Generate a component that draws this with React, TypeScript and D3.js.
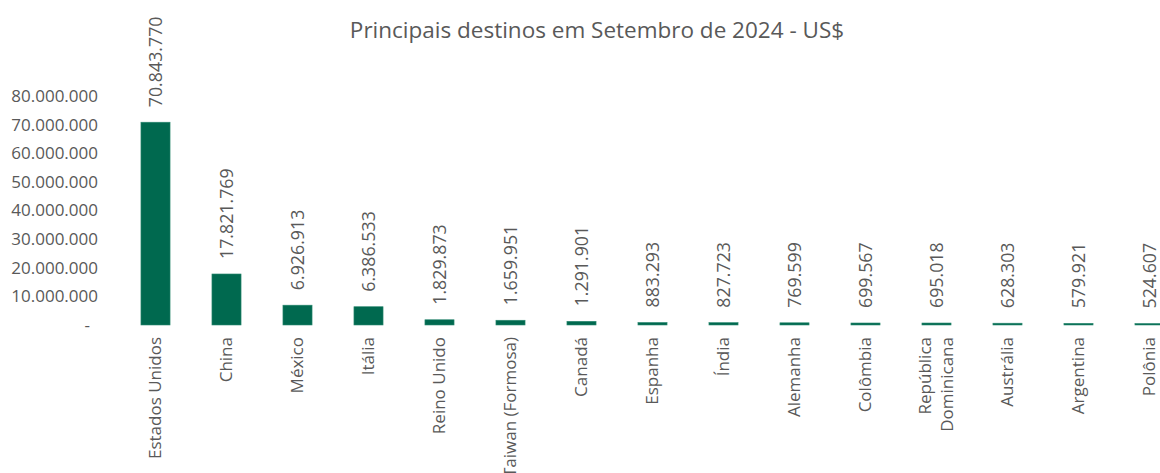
import React from 'react'
import * as d3 from 'd3'

const categories = [
  'Estados Unidos', 'China', 'México', 'Itália', 'Reino Unido', 'Taiwan (Formosa)',
  'Canadá', 'Espanha', 'Índia', 'Alemanha', 'Colômbia', 'República Dominicana',
  'Austrália', 'Argentina', 'Polônia',
]
const values = [
  70843770, 17821769, 6926913, 6386533, 1829873, 1659951, 1291901, 883293,
  827723, 769599, 699567, 695018, 628303, 579921, 524607,
]
const yTicks = [0, 10000000, 20000000, 30000000, 40000000, 50000000, 60000000, 70000000, 80000000]
const title = 'Principais destinos em Setembro de 2024 - US$'

const W = 1160
const H = 473
const FONT = '"Open Sans", sans-serif'
const GRAY = '#595959'
const GREEN = '#00694f'

const fmt = (v: number) => (v === 0 ? '-' : d3.format(',')(v).replace(/,/g, '.'))

// "República Dominicana" is wrapped on two lines in the original
const splitLabel = (s: string) => (s === 'República Dominicana' ? ['República', 'Dominicana'] : [s])

export default function App() {
  const x = d3.scaleBand<string>().domain(categories).range([120, 1185]).paddingInner(0.59).paddingOuter(0.295)
  const y = d3.scaleLinear().domain([0, 80000000]).range([325, 96])

  return (
    <svg width={W} height={H} style={{ position: 'absolute', left: 0, top: 0, background: '#fff' }} fontFamily={FONT}>
      <text x={597} y={38} textAnchor="middle" fontSize={22.5} fill={GRAY}>{title}</text>

      {yTicks.map(t => (
        <text key={t} x={t === 0 ? 90 : 98} y={y(t)} dy="0.35em" textAnchor="end" fontSize={17} fill={GRAY}>
          {fmt(t)}
        </text>
      ))}

      {categories.map((c, i) => {
        const bx = x(c) as number
        const cx = bx + x.bandwidth() / 2
        const top = y(values[i])
        const lines = splitLabel(c)
        return (
          <g key={c}>
            <rect x={bx} y={top} width={x.bandwidth()} height={y(0) - top} fill={GREEN} stroke="#2e8a72" strokeWidth={0.6} />
            <text transform={`translate(${cx},${top - 15}) rotate(-90)`} dy="0.35em" fontSize={17.8} fill={GRAY}>
              {fmt(values[i])}
            </text>
            {lines.map((l, j) => (
              <text key={l}
                transform={`translate(${cx + (j - (lines.length - 1) / 2) * 22},337) rotate(-90)`}
                dy="0.35em" textAnchor="end" fontSize={17} fill={GRAY}>
                {l}
              </text>
            ))}
          </g>
        )
      })}
    </svg>
  )
}
